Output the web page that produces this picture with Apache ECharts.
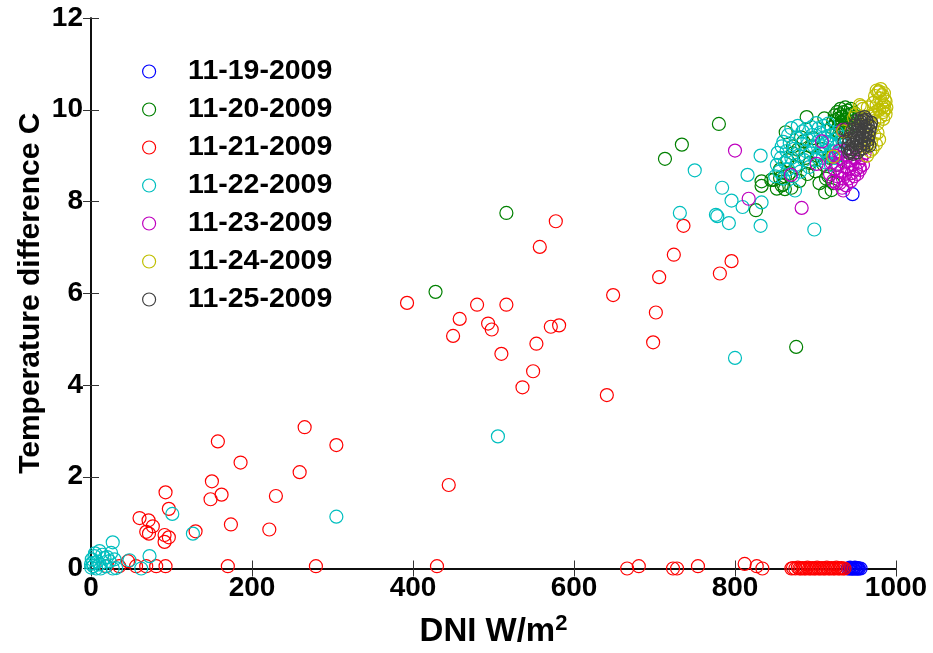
<!DOCTYPE html>
<html>
<head>
<meta charset="utf-8">
<script src="https://cdn.jsdelivr.net/npm/echarts@6/dist/echarts.min.js"></script>
<style>html,body{margin:0;padding:0;background:#fff;}#c{width:933px;height:653px;}</style>
</head>
<body>
<div id="c"></div>
<script>
var seriesNames = ['11-19-2009','11-20-2009','11-21-2009','11-22-2009','11-23-2009','11-24-2009','11-25-2009'];
var seriesColors = ['#0000ff','#008000','#ff0000','#00bfbf','#bf00bf','#bfbf00','#404040'];
var xTicks = [0,200,400,600,800,1000];
var yTicks = [0,2,4,6,8,10,12];

var d1119 = [[940,0],[942,0],[943,0.02],[944,0],[945,0],[946,0.01],[947,0],[948,0],[949,0.02],[950,0],[951,0],[952,0.01],[953,0],[954,0],[956,0],[946,8.16]];

var d1120 = [[516,7.75],[428,6.03],[780,9.69],[713,8.93],[734,9.24],[826,7.81],[833,8.44],[833,8.34],[876,4.83],[889,9.84],[863,9.51],[911,9.81],
[845,8.47],[856,8.51],[860,8.37],[862,8.27],[872,9.2],
[848,8.47],[852,8.28],[856,8.70],[858,8.35],[862,8.55],[865,8.90],[868,8.62],[870,8.30],[872,9.05],[875,8.75],[878,9.13],[880,8.45],[882,9.40],[885,9.31],[888,8.95],[890,8.60],[893,8.84],[895,9.20],[897,9.38],[900,8.66],[902,9.00],[905,8.40],[908,9.15],[910,8.80],[913,8.50],[916,8.55],[918,8.95],[922,8.40],[926,8.80],[920,8.25],[912,8.20],
[920,9.62],[922,9.75],[924,9.88],[925,9.70],[927,9.95],[928,9.80],[929,9.65],[930,9.90],[931,10.02],[932,9.72],[933,9.85],[934,9.60],[935,9.95],[936,9.78],[937,10.05],[938,9.68],[939,9.88],[940,9.98],[941,9.75],[942,9.62],[943,9.90],[944,10.02],[945,9.80],[947,9.70],[948,9.93],[950,9.85],[926,9.55],[930,9.50],[936,9.55]];

var d1121 = [[157.6,2.77],[265.4,3.08],[304.8,2.69],[185.8,2.31],[259.2,2.10],[150.2,1.90],[162.2,1.61],[148.5,1.51],[229.7,1.58],[92.6,1.66],[96.7,1.30],[60.3,1.10],[71.5,1.05],[76.8,0.92],[68.6,0.80],[72,0.76],[91.4,0.73],[91.4,0.58],[96.7,0.68],[129.9,0.81],[173.8,0.96],[221.5,0.85],
[19,0.05],[35,0.05],[46,0.16],[56,0.05],[68.6,0.05],[81,0.05],[92.6,0.05],[170,0.05],[279.4,0.05],
[577.4,7.57],[557.5,7.01],[392.6,5.79],[479.6,5.75],[516,5.75],[458,5.44],[449.8,5.07],[493.3,5.34],[497.8,5.21],[571.2,5.27],[581.5,5.30],[553.3,4.90],[509.8,4.68],[549.2,4.30],[536,3.95],[444.4,1.82],[648.6,5.96],[640.8,3.78],[724,6.84],[705.8,6.35],[701.7,5.58],[698.3,4.93],[736,7.47],[795.7,6.70],[781.2,6.43],
[429.8,0.05],[666,0],[680.5,0.05],[723,0],[728,0],[754,0.05],[812,0.1],[827,0.05],[834,0],
[870,0],[872,0.01],[875,0],[878,0.02],[880,0],[882,0],[884,0.01],[886,0],[888,0],[890,0.02],[892,0],[894,0],[896,0.01],[898,0],[900,0],[902,0.02],[904,0],[906,0],[908,0.01],[910,0],[912,0],[914,0.02],[916,0],[918,0],[920,0.01],[922,0],[924,0],[926,0.02],[928,0],[930,0],[932,0.01],[934,0],[936,0]];

var d1122 = [[101,1.19],[304.8,1.13],[126.6,0.76],[27,0.57],[72.7,0.27],[47.8,0.18],[62.4,0],[27,0],[10.6,0.38],[25,0.34],[4.3,0.27],[16.8,0.23],[29.2,0.2],[2.3,0.12],[10.6,0.09],[23,0.16],[0.2,0.02],[6.4,0],[31.3,0.01],[1,0.2],[3,0.05],[8,0.15],[14,0.3],[18,0.05],[12,0.0],[20,0.25],[0,0.1],[5,0.33],
[505.5,2.88],[800,4.59],[731.5,7.75],[750,8.68],[831.8,9.0],[815.6,8.58],[784,8.30],[795.7,8.02],[809.4,7.88],[833,7.98],[776.3,7.71],[778,7.68],[792.4,7.53],[831.8,7.47],[874.5,8.24],[898.5,7.39],
[850,8.55],[852,8.80],[853,9.06],[855,8.65],[857,8.95],[858,9.20],[860,8.50],[862,8.85],[864,9.10],[866,8.70],[868,9.27],[870,8.95],[872,8.55],[874,9.15],[876,8.80],[877,9.40],[879,9.00],[881,8.65],[883,9.25],[884,9.53],[886,8.90],[888,9.10],[890,9.35],[892,8.75],[894,9.05],[896,9.45],[898,9.20],[900,8.90],[901,9.71],[903,9.30],[905,9.05],[906,9.50],[908,9.20],[909,8.95],[911,9.40],[912,9.10],[914,9.30],[915,9.55],[917,9.00],[918,9.25],[920,9.45],[921,9.10],[923,9.35],[924,8.95],[926,9.20],[927,9.50],[929,9.05],[930,9.30],[932,9.15],[933,9.40],[910,9.65],[916,9.70],[904,9.60],[895,9.62],[888,9.58],[866,9.45],[860,9.30],[870,9.60],[878,9.65],[913,8.85],[919,8.80],[925,9.00]];

var d1123 = [[800,9.11],[817,8.06],[882.8,7.86],[869.5,8.58],[908,9.31],[901.4,8.82],[934.5,8.24],[955.3,8.69],[934,9.56],
[918,8.60],[920,8.85],[922,8.45],[924,8.70],[925,9.00],[927,8.55],[928,8.80],[930,8.40],[931,8.95],[932,8.65],[934,8.50],[935,8.85],[936,9.10],[937,8.60],[938,8.35],[939,8.75],[940,9.00],[941,8.50],[942,8.70],[943,8.90],[944,8.45],[945,8.62],[946,8.80],[948,8.55],[949,8.95],[950,8.70],[952,8.60],[953,8.85],[955,8.75],[957,8.95],[959,8.80],[961,9.05],[926,8.40],[933,8.30],[929,9.10]];

var d1124 = [[922,8.98],[934.5,9.53],[957,10.07],[979,10.40],
[970,9.60],[971,9.90],[972,10.15],[973,9.75],[974,10.30],[975,9.95],[976,10.10],[977,9.70],[978,10.38],[979,10.00],[980,10.25],[981,9.85],[982,10.15],[983,10.32],[984,9.95],[985,10.10],[986,10.22],[987,9.90],[988,10.05],[987,10.18],[984,9.80],[986,10.00],[983,10.05],[976,10.42],[981,10.45],[985,10.36],[969,9.30],[971,9.15],[973,9.45],[975,9.25],[977,9.50],[979,9.35],[966,9.40],[963,9.20],[967,9.85],[965,10.05],[959,10.02],[955,10.10],[950,9.90],[948,9.82],[945,9.55],[961,9.65],[964,9.00],[968,9.10]];

var d1125 = [[942,9.06],[947,9.04],[952,9.07],
[940,9.16],[945,9.14],[950,9.17],[955,9.13],[959,9.16],
[941,9.26],[946,9.24],[951,9.27],[956,9.23],[960,9.26],[964,9.24],
[942,9.36],[947,9.34],[952,9.37],[957,9.33],[961,9.36],[965,9.34],
[944,9.46],[949,9.44],[954,9.47],[958,9.43],[962,9.46],[966,9.44],
[946,9.56],[951,9.54],[955,9.57],[959,9.53],[963,9.56],[967,9.54],
[949,9.66],[953,9.64],[957,9.67],[961,9.63],[965,9.66],[968,9.64],
[952,9.76],[956,9.74],[960,9.77],[964,9.73],
[957,9.82],[961,9.84],
[936,9.30],[938,9.58],[969,9.72],[967,9.22],[944,9.10],[963,9.78]];

var allData = [d1119,d1120,d1121,d1122,d1123,d1124,d1125];

var FONT = 'Liberation Sans';
var chart = echarts.init(document.getElementById('c'), null, {renderer:'canvas'});

var series = seriesNames.map(function(n,i){
  return {
    name: n, type: 'scatter', data: allData[i], xAxisIndex: 0, yAxisIndex: 0,
    symbol: 'circle', symbolSize: 13, clip: false,
    itemStyle: {color: 'rgba(0,0,0,0)', borderColor: seriesColors[i], borderWidth: 1.2, opacity: 1},
    emphasis: {disabled: true}, silent: true, animation: false
  };
});

var baseAxisLine = {show: true, lineStyle: {color: '#000', width: 1.5}};
var tickStyle = {show: true, inside: true, length: 8, lineStyle: {color: '#333', width: 1}};
var labelStyle = {color: '#000', fontSize: 28, fontWeight: 'bold', fontFamily: FONT};

chart.setOption({
  animation: false,
  backgroundColor: '#fff',
  grid: {left: 91, top: 18, width: 805, height: 551, containLabel: false},
  legend: {
    orient: 'vertical', left: 137, top: 52, itemGap: 9,
    itemWidth: 68, itemHeight: 13, icon: 'circle',
    itemStyle: {borderWidth: 1.2},
    textStyle: {fontSize: 28.5, fontWeight: 'bold', fontFamily: FONT, color: '#000'},
    data: seriesNames, selectedMode: false
  },
  xAxis: [{
    type: 'value', position: 'bottom', min: 0, max: 1000, interval: 200,
    axisLine: baseAxisLine, axisTick: tickStyle, splitLine: {show: false},
    axisLabel: Object.assign({margin: 6, formatter: function(v){ return String(v); }}, labelStyle),
    name: '{a|DNI W/m}{b|2}', nameLocation: 'middle', nameGap: 44, nameMoveOverlap: false,
    nameTextStyle: {rich: {
      a: {fontSize: 33, fontWeight: 'bold', fontFamily: FONT, color: '#000'},
      b: {fontSize: 22, fontWeight: 'bold', fontFamily: FONT, color: '#000', verticalAlign: 'top', padding: [0,0,16,0]}
    }}
  },{
    type: 'value', position: 'top', min: 0, max: 1000, interval: 200,
    axisLine: baseAxisLine, axisTick: tickStyle, splitLine: {show: false}, axisLabel: {show: false}
  }],
  yAxis: [{
    type: 'value', position: 'left', min: 0, max: 12, interval: 2,
    axisLine: baseAxisLine, axisTick: tickStyle, splitLine: {show: false},
    axisLabel: Object.assign({margin: 8}, labelStyle),
    name: 'Temperature difference C', nameLocation: 'middle', nameGap: 45, nameRotate: 90, nameMoveOverlap: false,
    nameTextStyle: {fontSize: 30, fontWeight: 'bold', fontFamily: FONT, color: '#000'}
  },{
    type: 'value', position: 'right', min: 0, max: 12, interval: 2,
    axisLine: baseAxisLine, axisTick: tickStyle, splitLine: {show: false}, axisLabel: {show: false}
  }],
  series: series
});
</script>
</body>
</html>
